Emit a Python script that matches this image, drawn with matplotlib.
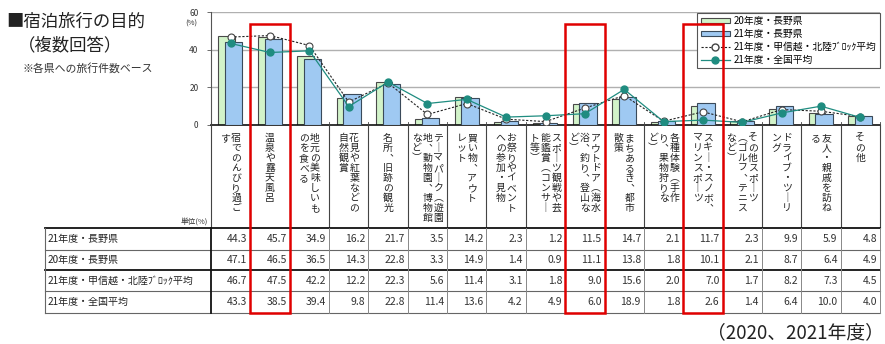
import numpy as np
import matplotlib
matplotlib.use("Agg")
import matplotlib.pyplot as plt
from matplotlib.patches import Patch, Rectangle
from matplotlib.lines import Line2D

plt.rcParams['font.family'] = ['Noto Sans CJK JP', 'DejaVu Sans']

# ---- data ----
categories = [
    ["宿でのんびり過ご", "す"],
    ["温泉や露天風呂"],
    ["地元の美味しいも", "のを食べる"],
    ["花見や紅葉などの", "自然観賞"],
    ["名所、旧跡の観光"],
    ["テーマパーク（遊園", "地、動物園、博物館", "など）"],
    ["買い物、アウト", "レット"],
    ["お祭りやイベント", "への参加・見物"],
    ["スポーツ観戦や芸", "能鑑賞（コンサー", "ト等）"],
    ["アウトドア（海水", "浴、釣り、登山な", "ど）"],
    ["まちあるき、都市", "散策"],
    ["各種体験（手作", "り、果物狩りな", "ど）"],
    ["スキー・スノボ、", "マリンスポーツ"],
    ["その他スポーツ", "（ゴルフ、テニス", "など）"],
    ["ドライブ・ツーリ", "ング"],
    ["友人・親戚を訪ね", "る"],
    ["その他"],
]
series_names = ["21年度・長野県", "20年度・長野県", "21年度・甲信越・北陸ﾌﾞﾛｯｸ平均", "21年度・全国平均"]
nagano21 = [44.3, 45.7, 34.9, 16.2, 21.7, 3.5, 14.2, 2.3, 1.2, 11.5, 14.7, 2.1, 11.7, 2.3, 9.9, 5.9, 4.8]
nagano20 = [47.1, 46.5, 36.5, 14.3, 22.8, 3.3, 14.9, 1.4, 0.9, 11.1, 13.8, 1.8, 10.1, 2.1, 8.7, 6.4, 4.9]
koshinetsu21 = [46.7, 47.5, 42.2, 12.2, 22.3, 5.6, 11.4, 3.1, 1.8, 9.0, 15.6, 2.0, 7.0, 1.7, 8.2, 7.3, 4.5]
zenkoku21 = [43.3, 38.5, 39.4, 9.8, 22.8, 11.4, 13.6, 4.2, 4.9, 6.0, 18.9, 1.8, 2.6, 1.4, 6.4, 10.0, 4.0]
table_rows = [nagano21, nagano20, koshinetsu21, zenkoku21]
highlight = [1, 9, 12]
yticks = [0, 20, 40, 60]

GREEN = "#d2f3c9"
BLUE = "#9fc9f2"
TEAL = "#1f8c80"
RED = "#e00000"

W, H = 885, 344
fig = plt.figure(figsize=(W / 100, H / 100), dpi=100)

# layout in pixels
x0, x1 = 211, 880
ytop, ybot = 12, 125
n = len(nagano21)
cw = (x1 - x0) / n

def fx(px):
    return px / W

def fy(py):
    return 1 - py / H

# ---- main chart ----
ax = fig.add_axes([fx(x0), fy(ybot), (x1 - x0) / W, (ybot - ytop) / H])
x = np.arange(n) + 0.5
ax.bar(x - 0.1, nagano20, width=0.42, color=GREEN, edgecolor="#4a4a4a", linewidth=0.8, zorder=2)
ax.bar(x + 0.08, nagano21, width=0.44, color=BLUE, edgecolor="#3a4a5a", linewidth=0.8, zorder=3)
ax.plot(x, koshinetsu21, color="#222222", linestyle=(0, (2, 1.5)), linewidth=0.8, marker="o",
        markersize=5, markerfacecolor="white", markeredgecolor="#444444", markeredgewidth=0.8, zorder=4)
ax.plot(x, zenkoku21, color=TEAL, linewidth=0.9, marker="o", markersize=5,
        markerfacecolor=TEAL, markeredgecolor=TEAL, zorder=5)
ax.set_xlim(0, n)
ax.set_ylim(0, 60)
ax.set_yticks(yticks)
ax.set_yticklabels([str(v) for v in yticks], fontsize=6, color="#333333")
ax.tick_params(axis="y", length=3, width=0.6, color="#555555", pad=6)
ax.set_xticks([])
for y in yticks[1:]:
    ax.axhline(y, color="#b0b0b0", linewidth=1.0, zorder=1)
for s in ["top", "right"]:
    ax.spines[s].set_visible(False)
ax.spines["left"].set_color("#555555")
ax.spines["left"].set_linewidth(0.8)
ax.spines["bottom"].set_color("#111111")
ax.spines["bottom"].set_linewidth(1.2)
ax.patch.set_alpha(0)

handles = [
    Patch(facecolor=GREEN, edgecolor="#4a4a4a", linewidth=0.8),
    Patch(facecolor=BLUE, edgecolor="#3a4a5a", linewidth=0.8),
    Line2D([], [], color="#222222", linestyle=(0, (2, 1.5)), linewidth=0.8, marker="o", markersize=5,
           markerfacecolor="white", markeredgecolor="#444444"),
    Line2D([], [], color=TEAL, linewidth=0.9, marker="o", markersize=5, markerfacecolor=TEAL),
]
labels = [series_names[1], series_names[0], series_names[2], series_names[3]]
leg = ax.legend(handles, labels, loc="upper right", bbox_to_anchor=(1.0, 0.995), fontsize=7,
                frameon=True, fancybox=False, edgecolor="#555555", framealpha=1,
                handlelength=3.0, handleheight=0.5, handletextpad=0.4, labelspacing=0.3,
                borderpad=0.35, borderaxespad=0)
leg.get_frame().set_linewidth(0.8)
leg.set_zorder(10)

# ---- overlay for labels, table and highlight boxes ----
ov = fig.add_axes([0, 0, 1, 1])
ov.set_xlim(-x0 / cw, (W - x0) / cw)
ov.set_ylim(H, 0)
ov.axis("off")
ov.patch.set_alpha(0)

tab_top, tab_rows = 228, [228, 250, 270, 291, 313]
xl = (45 - x0) / cw

# category label area separators
for i in range(n + 1):
    ov.plot([i, i], [ybot, tab_top], color="#444444", linewidth=0.8)
    ov.plot([i, i], [ybot - 3, ybot], color="#444444", linewidth=0.6)

# vertical Japanese labels (vertical presentation forms)
vert = {"ー": "｜", "（": "︵", "）": "︶", "、": "︑"}
pitch = 10.0
for i, cols in enumerate(categories):
    k = len(cols)
    for j, col in enumerate(cols):
        cx = i + 0.5 + ((k - 1) / 2 - j) * (10.8 / cw)
        for m, ch in enumerate(col):
            cy = 138 + m * pitch
            ov.text(cx, cy, vert.get(ch, ch), fontsize=7.1, ha="center", va="center", color="#222222")

ov.text((208 - x0) / cw, 222, "単位(%)", fontsize=5.5, ha="right", va="center", color="#333333")

# table
for r, yl in enumerate(tab_rows):
    lw = 1.3 if r in (0, 2) else 0.8
    col = "#111111" if r in (0, 2) else "#666666"
    ov.plot([xl, n], [yl, yl], color=col, linewidth=lw)
ov.plot([xl, xl], [tab_rows[0], tab_rows[-1]], color="#666666", linewidth=0.8)
ov.plot([0, 0], [tab_rows[0], tab_rows[-1]], color="#111111", linewidth=1.3)
for i in range(1, n + 1):
    ov.plot([i, i], [tab_rows[0], tab_rows[-1]], color="#888888", linewidth=0.7)
for r, (name, row) in enumerate(zip(series_names, table_rows)):
    cy = (tab_rows[r] + tab_rows[r + 1]) / 2
    ov.text(xl + 3 / cw, cy, name, fontsize=7.2, ha="left", va="center", color="#222222")
    for i, v in enumerate(row):
        ov.text(i + 1 - 3 / cw, cy, f"{v:.1f}", fontsize=7.5, ha="right", va="center", color="#333333")

# highlight boxes
for i in highlight:
    ov.add_patch(Rectangle((i, 24), 1, tab_rows[-1] - 24, fill=False, edgecolor=RED, linewidth=1.8, zorder=20))

# y-axis unit
fig.text(fx(191), fy(24), "(%)", fontsize=5.5, ha="center", va="center", color="#333333")

# titles
fig.text(fx(6), fy(22), "■宿泊旅行の目的", fontsize=12.5, ha="left", va="center", color="#222222")
fig.text(fx(18), fy(45), "（複数回答）", fontsize=12.5, ha="left", va="center", color="#222222")
fig.text(fx(23), fy(68), "※各県への旅行件数ベース", fontsize=7.8, ha="left", va="center", color="#333333")
fig.text(fx(884), fy(333), "（2020、2021年度）", fontsize=13.5, ha="right", va="center", color="#222222")

fig.savefig("out.png", dpi=100)
